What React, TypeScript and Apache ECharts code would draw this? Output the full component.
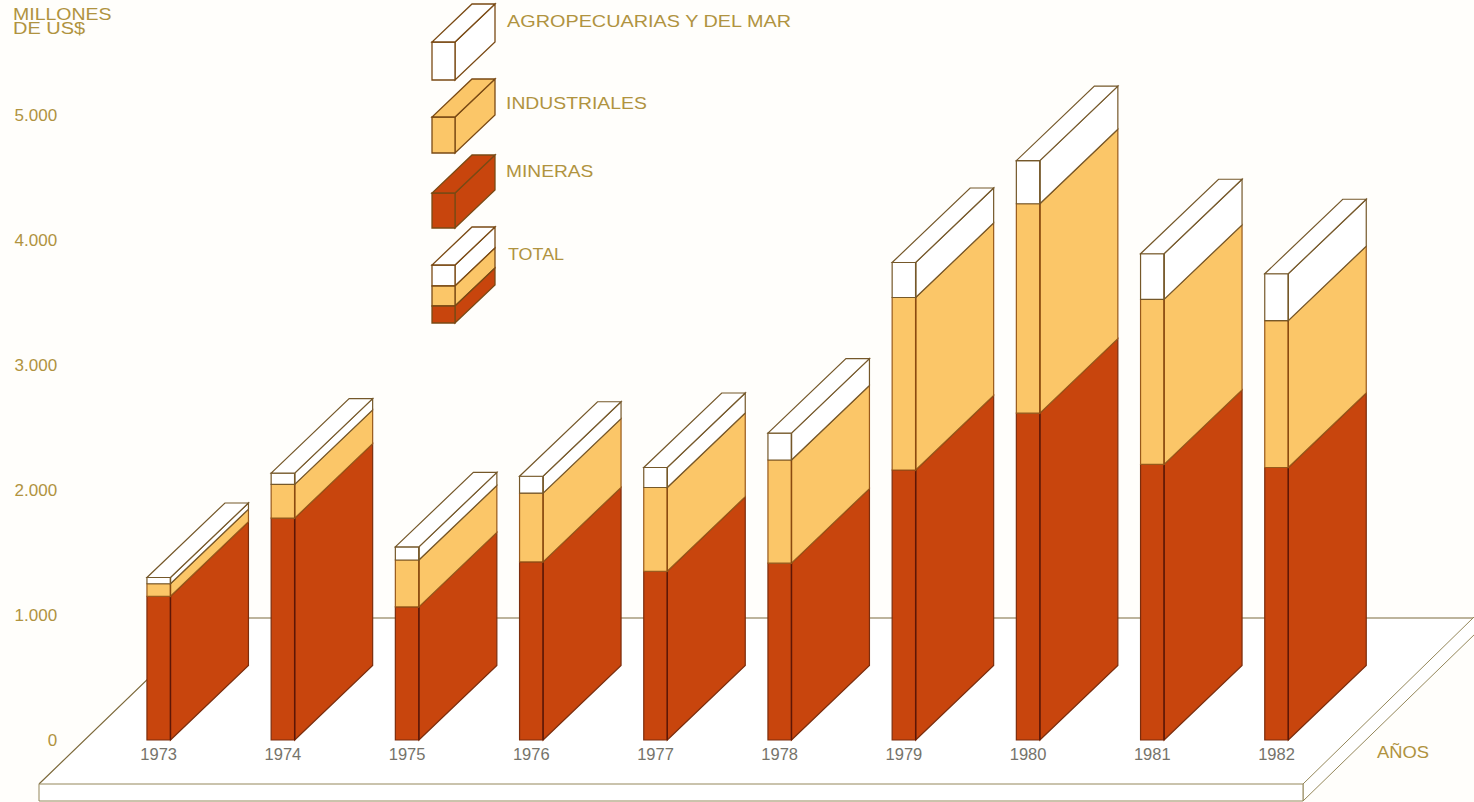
import React, { useEffect, useRef } from "react";
import * as echarts from "echarts";

// Exportaciones por sector, millones de US$
const years = ["1973", "1974", "1975", "1976", "1977", "1978", "1979", "1980", "1981", "1982"];
const mineras = [1150, 1775, 1065, 1425, 1350, 1415, 2160, 2615, 2205, 2180];
const industriales = [100, 270, 375, 550, 670, 825, 1380, 1675, 1320, 1175];
const agropecuarias = [50, 90, 105, 135, 160, 215, 280, 345, 365, 375];
const yTicks = ["0", "1.000", "2.000", "3.000", "4.000", "5.000"];

const RED = "#c8450d";
const YELLOW = "#fbc668";
const WHITE = "#ffffff";
const PAPER = "#fffefb";
const GOLD = "#b0933f";
const GREY = "#75736a";
const INK = "#75582a";
const FONT = '"Liberation Sans", Arial, sans-serif';

// Prisma proyectado: desplazamiento de la cara lateral
const DEPTH_X = 78;
const DEPTH_Y = -74.5;
const FRONT_RATIO = 23.5 / 124.2;

type Segment = [number, number, number];

function stacked(values: number[], below: number[][]): Segment[] {
  return values.map((v, i) => {
    const base = below.reduce((sum, s) => sum + s[i], 0);
    return [i, base, base + v];
  });
}

function prismSeries(
  name: string,
  data: Segment[],
  fill: string,
  stroke: string,
  divider: string,
  withCap: boolean
) {
  return {
    type: "custom",
    name,
    data,
    silent: true,
    encode: { x: 0, y: [1, 2] },
    renderItem: (_: any, api: any) => {
      const [cx, y0] = api.coord([api.value(0), api.value(1)]);
      const [, y1] = api.coord([api.value(0), api.value(2)]);
      const w = api.size([1, 0])[0] * FRONT_RATIO;
      const xl = cx - w / 2;
      const xr = cx + w / 2;
      const style = { fill, stroke, lineWidth: 1.2 };
      const children: any[] = [
        {
          type: "polygon",
          shape: { points: [[xr, y1], [xr + DEPTH_X, y1 + DEPTH_Y], [xr + DEPTH_X, y0 + DEPTH_Y], [xr, y0]] },
          style,
        },
        { type: "rect", shape: { x: xl, y: y1, width: w, height: y0 - y1 }, style },
        {
          type: "line",
          shape: { x1: xr, y1, x2: xr, y2: y0 },
          style: { stroke: divider, lineWidth: 1.4 },
        },
      ];
      if (withCap) {
        children.push({
          type: "polygon",
          shape: { points: [[xl, y1], [xr, y1], [xr + DEPTH_X, y1 + DEPTH_Y], [xl + DEPTH_X, y1 + DEPTH_Y]] },
          style,
        });
      }
      return { type: "group", children };
    },
  };
}

// Bloque de la leyenda: tramos [arriba, abajo, color] de la cara frontal
function legendBlock(bands: [number, number, string][]) {
  const x = 432;
  const w = 23;
  const dx = 40;
  const dy = -38;
  const out: any[] = [];
  const line = { stroke: "#7a4a14", lineWidth: 1.3 };
  bands.forEach(([top, bottom, fill]) => {
    out.push({
      type: "polygon",
      shape: { points: [[x + w, top], [x + w + dx, top + dy], [x + w + dx, bottom + dy], [x + w, bottom]] },
      style: { fill, ...line },
    });
    out.push({ type: "rect", shape: { x, y: top, width: w, height: bottom - top }, style: { fill, ...line } });
  });
  const [top, , capFill] = bands[0];
  out.push({
    type: "polygon",
    shape: { points: [[x, top], [x + w, top], [x + w + dx, top + dy], [x + dx, top + dy]] },
    style: { fill: capFill, ...line },
  });
  return out;
}

function label(text: string, x: number, y: number, scaleX: number, fill = GOLD, size = 16) {
  return {
    type: "text",
    x,
    y,
    scaleX,
    style: { text, fill, font: `${size}px ${FONT}`, verticalAlign: "middle" },
  };
}

// Plataforma: plano superior, canto lateral y canto frontal
const floorLine = { stroke: "#94875a", lineWidth: 1 };

const floor = [
  {
    type: "polygon",
    shape: { points: [[39, 784], [211, 618], [1490, 618], [1303, 784]] },
    style: { fill: WHITE, stroke: "none" },
  },
  {
    type: "polyline",
    shape: { points: [[39, 784], [211, 618], [1480, 618]] },
    style: { stroke: "#7d6a3c", lineWidth: 1.2, fill: "none" },
  },
  {
    type: "polygon",
    shape: { points: [[1303, 784], [1490, 601.4], [1490, 619.4], [1303, 801]] },
    style: { fill: WHITE, ...floorLine },
  },
  {
    type: "polygon",
    shape: { points: [[39, 784], [1303, 784], [1303, 801], [39, 801]] },
    style: { fill: WHITE, ...floorLine },
  },
];

export default function App() {
  const ref = useRef<HTMLDivElement>(null);

  useEffect(() => {
    if (!ref.current) return;
    document.body.style.margin = "0";
    const chart = echarts.init(ref.current, undefined, { renderer: "svg" });
    chart.setOption({
      animation: false,
      backgroundColor: PAPER,
      tooltip: { show: false },
      grid: { left: 96.6, width: 1242, top: 115, height: 625 },
      xAxis: {
        type: "category",
        data: years,
        axisLine: { show: false },
        axisTick: { show: false },
        axisLabel: { color: GREY, fontFamily: FONT, fontSize: 16.5, margin: 5 },
      },
      yAxis: {
        type: "value",
        min: 0,
        max: 5000,
        interval: 1000,
        splitLine: { show: false },
        axisLine: { show: false },
        axisTick: { show: false },
        axisLabel: {
          color: GOLD,
          fontFamily: FONT,
          fontSize: 17,
          margin: 39.5,
          formatter: (v: number) => yTicks[v / 1000],
        },
      },
      graphic: {
        elements: [
          ...floor,
          ...legendBlock([[42, 80, WHITE]]),
          ...legendBlock([[117, 153, YELLOW]]),
          ...legendBlock([[193, 228, RED]]),
          ...legendBlock([[265, 286, WHITE], [286, 306, YELLOW], [306, 323, RED]]),
          label("MILLONES", 13, 15, 1.22),
          label("DE US$", 13, 29, 1.25),
          label("AGROPECUARIAS Y DEL MAR", 507, 22, 1.24),
          label("INDUSTRIALES", 506, 104, 1.21),
          label("MINERAS", 506, 172, 1.2),
          label("TOTAL", 508, 255, 1.12),
          label("AÑOS", 1377, 752, 1.15),
        ],
      },
      series: [
        prismSeries("Mineras", stacked(mineras, []), RED, "#7c2d0c", "#5e1606", false),
        prismSeries("Industriales", stacked(industriales, [mineras]), YELLOW, "#98591a", "#8a4a10", false),
        prismSeries("Agropecuarias y del mar", stacked(agropecuarias, [mineras, industriales]), WHITE, INK, INK, true),
      ],
    });
    return () => chart.dispose();
  }, []);

  return <div ref={ref} style={{ width: 1474, height: 802 }} />;
}
